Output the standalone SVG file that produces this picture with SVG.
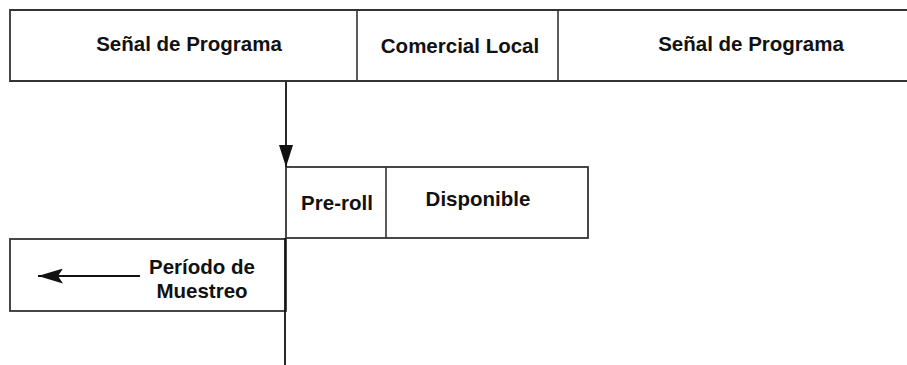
<svg xmlns="http://www.w3.org/2000/svg" width="907" height="365" viewBox="0 0 907 365">
  <style>
    .box { fill: #ffffff; stroke: #333333; stroke-width: 1.8; }
    .rule { stroke: #333333; stroke-width: 1.6; fill: none; }
    .wire { stroke: #111111; stroke-width: 1.8; fill: none; }
    .lbl { font-family: "Liberation Sans", Arial, Helvetica, sans-serif; font-weight: bold; font-size: 20.5px; fill: #111111; text-anchor: middle; }
  </style>
  <defs>
    <marker id="head" viewBox="0 0 22 14" refX="22" refY="7" markerWidth="22" markerHeight="14" markerUnits="userSpaceOnUse" orient="auto">
      <path d="M0,0 L22,7 L0,14 Z" fill="#111111"/>
    </marker>
    <marker id="headL" viewBox="0 0 25 15" refX="25" refY="7.5" markerWidth="25" markerHeight="15" markerUnits="userSpaceOnUse" orient="auto">
      <path d="M0,0 L25,7.5 L0,15 L5,7.5 Z" fill="#111111"/>
    </marker>
  </defs>

  <!-- top strip: program / local commercial / program -->
  <g id="strip">
    <path class="box" d="M912,10 H10 V81 H912"/>
    <g id="senal1">
      <text class="lbl" x="189" y="51">Señal de Programa</text>
    </g>
    <g id="comercial">
      <line class="rule" x1="357" y1="10" x2="357" y2="81"/>
      <text class="lbl" x="460" y="53">Comercial Local</text>
    </g>
    <g id="senal2">
      <line class="rule" x1="558" y1="10" x2="558" y2="81"/>
      <text class="lbl" x="751" y="51">Señal de Programa</text>
    </g>
  </g>

  <!-- pre-roll + available window -->
  <g id="ventana">
    <rect class="box" x="286" y="167" width="302" height="71"/>
    <line class="rule" x1="386" y1="167" x2="386" y2="238"/>
    <g id="preroll">
      <text class="lbl" x="337" y="210">Pre-roll</text>
    </g>
    <g id="disponible">
      <text class="lbl" x="478" y="206">Disponible</text>
    </g>
  </g>

  <!-- sampling period -->
  <g id="periodo">
    <rect class="box" x="10" y="239" width="276" height="72"/>
    <text class="lbl" x="202" y="274">Período de</text>
    <text class="lbl" x="202" y="298">Muestreo</text>
  </g>

  <!-- connectors -->
  <g id="connectors">
    <line class="wire" x1="286" y1="82" x2="286" y2="167" marker-end="url(#head)"/>
    <line class="wire" x1="285" y1="238" x2="285" y2="365"/>
    <line class="wire" x1="140" y1="276" x2="38" y2="276" marker-end="url(#headL)"/>
  </g>
</svg>
